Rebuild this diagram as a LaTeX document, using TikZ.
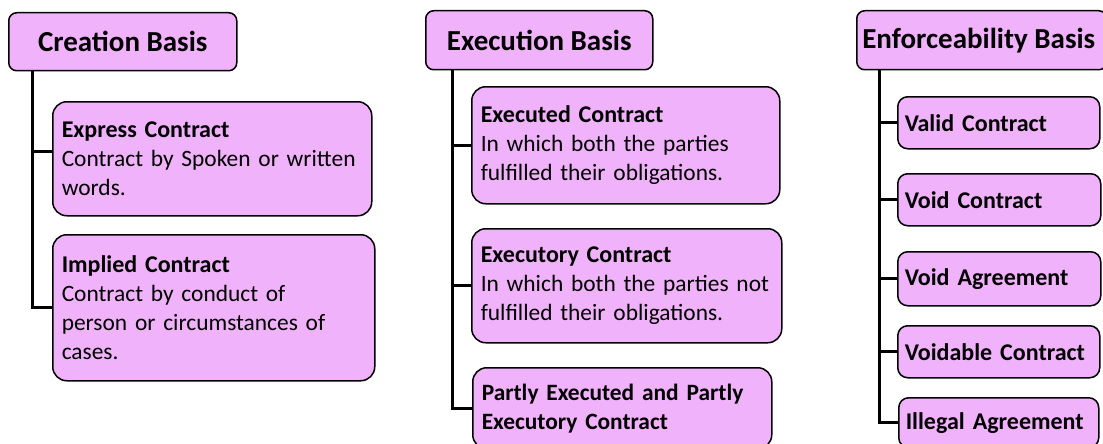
\documentclass[tikz,border=0pt]{standalone}
\usepackage{fontspec}
\setmainfont{Carlito}
\usepackage{tikz}
\usetikzlibrary{positioning}
\definecolor{boxpink}{RGB}{240,178,250}
\newcommand{\kname}[1]{{\fontsize{24}{29}\selectfont\bfseries #1}}
\tikzset{
  basis/.style={draw,rounded corners=8pt,fill=boxpink,line width=1.5pt,anchor=north west,inner sep=0pt,
    font=\fontsize{29}{35}\selectfont\bfseries},
  kind/.style={draw,rounded corners=14pt,fill=boxpink,line width=1.5pt,anchor=north west,align=left,
    inner xsep=9pt,inner ysep=0pt,font=\fontsize{23.4}{29}\selectfont},
  leaf/.style={kind,rounded corners=10pt,inner xsep=7pt,font=\fontsize{24}{29}\selectfont\bfseries},
  link/.style={line width=3pt}
}

\begin{document}
\begin{tikzpicture}[x=1pt,y=-1pt]
\clip (0,0) rectangle (1103,444);
% headers
\node (cb) [basis,minimum width=228pt,minimum height=58pt] at (8,12) {Creation Basis};
\node (eb) [basis,minimum width=227pt,minimum height=59pt] at (425,10) {Execution Basis};
\node (fb) [basis,minimum width=250pt,minimum height=59pt] at (856,10) {\hspace*{-6pt}Enforceability Basis};
%
% creation basis
\node (ec) [kind,text width=301pt,minimum height=114pt] at (52,101) {\kname{Express Contract}\\Contract by Spoken or written\\words.};
\node (ic) [kind,text width=304pt,minimum height=146pt] at (52,234) {\kname{Implied Contract}\\Contract by conduct of\\person or circumstances of\\cases.};
%
% execution basis
\node (xd) [kind,text width=290pt,minimum height=117pt] at (471,86) {\kname{Executed Contract}\\In which both the parties\\fulfilled their obligations.};
\node (xy) [kind,text width=292pt,minimum height=114pt] at (471,228) {\kname{Executory Contract}\\In which both the parties not\\fulfilled their obligations.};
\node (px) [kind,font=\fontsize{23.4}{29}\selectfont\bfseries,text width=281pt,minimum height=81pt] at (472,367) {Partly Executed and Partly\\Executory Contract};
%
% enforceability basis
\node (va) [leaf,text width=188pt,minimum height=52pt] at (897,96) {Valid Contract};
\node (vc) [leaf,text width=189pt,minimum height=52pt] at (897,173) {Void Contract};
\node (vg) [leaf,text width=189pt,minimum height=54pt] at (897,251) {Void Agreement};
\node (vb) [leaf,text width=188pt,minimum height=52pt] at (897,325) {Voidable Contract};
\node (il) [leaf,text width=186pt,minimum height=50pt] at (898,397) {Illegal Agreement};
%
\draw[link] ([xshift=24pt]cb.south west) |- ([yshift=7pt]ec.west);
\draw[link] ([xshift=24pt]cb.south west) |- (ic.west);
\draw[link] ([xshift=27pt]eb.south west) |- (xd.west);
\draw[link] ([xshift=27pt]eb.south west) |- (xy.west);
\draw[link] ([xshift=27pt]eb.south west) |- (px.west);
\foreach \n in {va,vc,vg,vb,il}
  \draw[link] ([xshift=23pt]fb.south west) |- (\n.west);
\end{tikzpicture}
\end{document}
